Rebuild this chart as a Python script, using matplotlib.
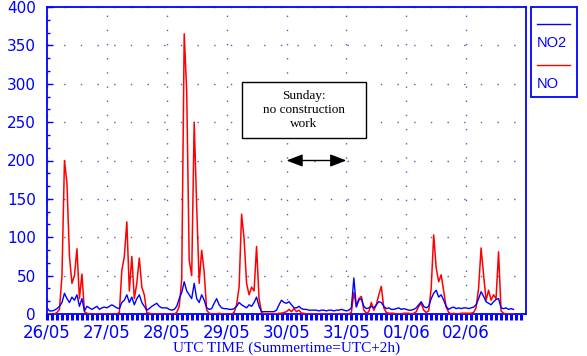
import numpy as np
import matplotlib
matplotlib.use("Agg")
import matplotlib.pyplot as plt
from matplotlib.patches import Rectangle
from matplotlib.lines import Line2D

# ---- data (hourly values starting 26/05 00:00 UTC) ----
day_labels = ["26/05", "27/05", "28/05", "29/05", "30/05", "31/05", "01/06", "02/06"]

no2 = [
    8, 4, 4, 5, 7, 10, 15, 27, 20, 15, 22, 18, 25, 10, 20, 4, 10, 8, 6, 8, 10, 6, 8, 9,
    8, 10, 12, 10, 8, 7, 15, 18, 25, 15, 22, 12, 20, 25, 15, 10, 5, 7, 10, 12, 14, 10, 8, 8,
    8, 6, 5, 6, 10, 20, 28, 42, 30, 25, 20, 40, 20, 15, 25, 18, 8, 6, 7, 14, 20, 12, 8, 7,
    7, 6, 6, 7, 10, 15, 12, 10, 8, 12, 10, 15, 22, 10, 3, 3, 3, 3, 3, 3, 5, 12, 18, 15,
    14, 16, 12, 8, 8, 10, 7, 6, 6, 5, 5, 5, 5, 4, 5, 5, 4, 5, 5, 4, 5, 5, 6, 5,
    4, 5, 8, 47, 9, 18, 20, 10, 7, 8, 10, 8, 12, 16, 15, 10, 7, 8, 6, 6, 7, 8, 6, 7,
    6, 5, 5, 6, 8, 12, 16, 10, 8, 10, 20, 27, 31, 22, 25, 18, 10, 6, 8, 9, 7, 8, 7, 8,
    8, 7, 8, 9, 12, 20, 29, 23, 16, 14, 12, 16, 19, 20, 8, 7, 8, 6, 7, 6,
]

no = [
    0, 0, 0, 0, 2, 6, 50, 200, 170, 75, 40, 50, 85, 20, 52, 3, 1, 0, 0, 0, 0, 0, 0, 0,
    0, 0, 0, 0, 0, 2, 57, 75, 120, 30, 75, 20, 40, 73, 35, 25, 2, 1, 0, 0, 0, 0, 0, 0,
    0, 0, 0, 0, 2, 10, 45, 365, 290, 70, 50, 250, 140, 40, 83, 55, 5, 1, 0, 0, 0, 1, 0, 0,
    0, 0, 0, 2, 12, 35, 130, 98, 40, 25, 35, 30, 88, 20, 2, 0, 0, 0, 0, 0, 0, 1, 1, 2,
    3, 6, 3, 7, 3, 5, 1, 1, 0, 0, 0, 0, 0, 0, 0, 0, 0, 0, 0, 0, 0, 0, 0, 0,
    0, 0, 2, 28, 10, 20, 23, 5, 1, 3, 15, 5, 12, 25, 36, 8, 2, 1, 1, 1, 0, 0, 0, 1,
    1, 1, 0, 1, 3, 10, 14, 5, 2, 4, 34, 103, 60, 42, 51, 30, 9, 2, 0, 1, 0, 0, 1, 1,
    1, 1, 1, 2, 8, 34, 86, 51, 18, 31, 18, 25, 20, 81, 4, 1, 0, 0, 0, 0,
]

t_days = np.arange(len(no2)) / 24.0

BLUE = "#0000FF"
RED = "#FF0000"

fig = plt.figure(figsize=(5.87, 3.56), dpi=100)
ax = fig.add_axes([47 / 587, 1 - 314 / 356, (526 - 47) / 587, (314 - 7) / 356])

ax.plot(t_days, no, color=RED, lw=1.1, zorder=3)
ax.plot(t_days, no2, color=BLUE, lw=1.0, zorder=4)

ax.set_xlim(0, 8)
ax.set_ylim(0, 400)

for s in ax.spines.values():
    s.set_color(BLUE)
    s.set_linewidth(1.3)

ax.set_xticks(np.arange(len(day_labels)))
ax.set_xticklabels(day_labels)
ax.set_xticks(np.arange(0, 8, 1 / 12), minor=True)
ax.tick_params(axis="x", which="both", direction="out", length=4, width=2.2,
               color=BLUE, labelcolor=BLUE, labelsize=12, pad=3)

ax.set_yticks(np.arange(0, 401, 50))
ax.set_yticks(np.arange(0, 400, 50 / 3), minor=True)
ax.tick_params(axis="y", which="major", direction="in", length=4, width=1,
               color=BLUE, labelcolor=BLUE, labelsize=11, pad=8)
ax.tick_params(axis="y", which="minor", direction="in", length=2, width=1, color=BLUE)

for lab in ax.get_xticklabels() + ax.get_yticklabels():
    lab.set_family("DejaVu Sans")

ax.yaxis.grid(True, which="major", color="#5a5ab8", lw=1.0, linestyle=(0, (1, 11)))
ax.xaxis.grid(True, which="major", color="#5a5ab8", lw=1.0, linestyle=(0, (1, 9.2)))
ax.set_axisbelow(True)

ax.set_xlabel("UTC TIME (Summertime=UTC+2h)", family="Liberation Serif",
              fontsize=11, color=BLUE)
ax.xaxis.set_label_coords(0.5, -0.088)

# annotation box
ax.add_patch(Rectangle((3.25, 229), 2.07, 73, facecolor="white", edgecolor="black",
                       lw=1, zorder=6))
ax.text(4.285, 265.5, "Sunday:\nno construction\nwork", ha="center", va="center",
        family="Liberation Serif", fontsize=9.5, linespacing=1.25, zorder=7)
ax.annotate("", xy=(4.0, 200), xytext=(5.0, 200),
            arrowprops=dict(arrowstyle="<|-|>,head_length=0.7,head_width=0.27",
                            color="black", lw=1, mutation_scale=14,
                            shrinkA=0, shrinkB=0), zorder=7)

# legend (line above label)
fig.add_artist(Rectangle((531 / 587, 1 - 97 / 356), 46 / 587, 90 / 356,
                         transform=fig.transFigure, facecolor="white",
                         edgecolor=BLUE, lw=1.3))
fig.add_artist(Line2D([537 / 587, 570 / 587], [1 - 24 / 356] * 2,
                      transform=fig.transFigure, color=BLUE, lw=1))
fig.text(537 / 587, 1 - 43 / 356, "NO2", ha="left", va="center", color=BLUE,
         family="Liberation Sans", fontsize=10.5)
fig.add_artist(Line2D([537 / 587, 570 / 587], [1 - 65 / 356] * 2,
                      transform=fig.transFigure, color=RED, lw=1))
fig.text(537 / 587, 1 - 84 / 356, "NO", ha="left", va="center", color=BLUE,
         family="Liberation Sans", fontsize=10.5)

fig.savefig("out.png", dpi=100, facecolor="white")
